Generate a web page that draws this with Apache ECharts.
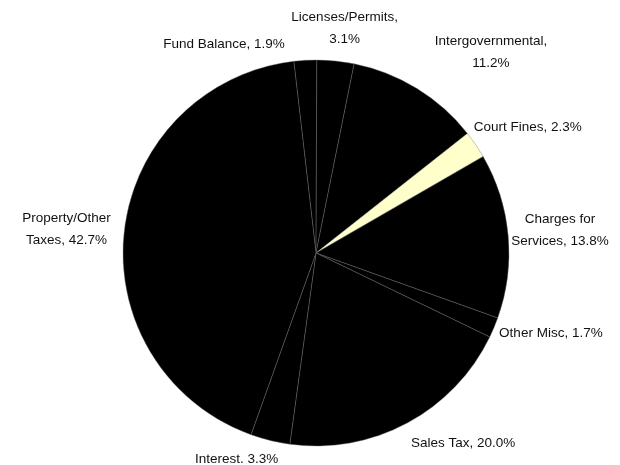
<!DOCTYPE html>
<html>
<head>
<meta charset="utf-8">
<script src="https://cdn.jsdelivr.net/npm/echarts@6/dist/echarts.min.js"></script>
<style>
  html, body { margin: 0; padding: 0; background: #fff; }
  #chart { width: 620px; height: 465px; }
</style>
</head>
<body>
<div id="chart"></div>
<script>
// Revenue sources, percent of total (clockwise from Fund Balance)
const categories = ['Fund Balance', 'Licenses/Permits', 'Intergovernmental', 'Court Fines',
  'Charges for Services', 'Other Misc', 'Sales Tax', 'Interest', 'Property/Other Taxes'];
const values = [1.9, 3.1, 11.2, 2.3, 13.8, 1.7, 20.0, 3.3, 42.7];

// How each label is written (line breaks and separator)
const labelText = {
  'Fund Balance': v => 'Fund Balance, ' + v + '%',
  'Licenses/Permits': v => 'Licenses/Permits,\n' + v + '%',
  'Intergovernmental': v => 'Intergovernmental,\n' + v + '%',
  'Court Fines': v => 'Court Fines, ' + v + '%',
  'Charges for Services': v => 'Charges for\nServices, ' + v + '%',
  'Other Misc': v => 'Other Misc, ' + v + '%',
  'Sales Tax': v => 'Sales Tax, ' + v + '%',
  'Interest': v => 'Interest. ' + v + '%',
  'Property/Other Taxes': v => 'Property/Other\nTaxes, ' + v + '%'
};

// Slice fills: everything black except Court Fines
const sliceColors = ['#000', '#000', '#000', '#ffffcc', '#000', '#000', '#000', '#000', '#000'];

// Fine nudges of each label from the end of its (hidden) leader line
const labelNudge = [[-79, 24], [5, 7], [53, -2], [19, 5], [12, -2], [20, -10], [37, -15], [-24, -20], [-18, 3]];

const chart = echarts.init(document.getElementById('chart'), null, { renderer: 'canvas' });

chart.setOption({
  backgroundColor: '#fff',
  animation: false,
  series: [{
    type: 'pie',
    center: [316, 253],
    radius: [0, 193],
    startAngle: 96.6,
    clockwise: true,
    avoidLabelOverlap: false,
    itemStyle: { borderColor: '#707070', borderWidth: 0.4 },
    label: {
      show: true,
      position: 'outside',
      fontFamily: 'Liberation Sans, Arial, sans-serif',
      fontSize: 13.5,
      color: '#111',
      lineHeight: 22,
      formatter: p => labelText[p.name](p.value.toFixed(1))
    },
    labelLine: { show: true, length: 40, length2: 0, lineStyle: { opacity: 0, width: 0 } },
    labelLayout: params => {
      const pts = params.labelLinePoints;
      const n = labelNudge[params.dataIndex];
      if (!pts) return {};
      return {
        x: pts[1][0] + n[0],
        y: pts[1][1] + n[1],
        align: 'center',
        verticalAlign: 'middle'
      };
    },
    data: categories.map((name, i) => ({
      name: name,
      value: values[i],
      itemStyle: { color: sliceColors[i] }
    }))
  }]
});
</script>
</body>
</html>
